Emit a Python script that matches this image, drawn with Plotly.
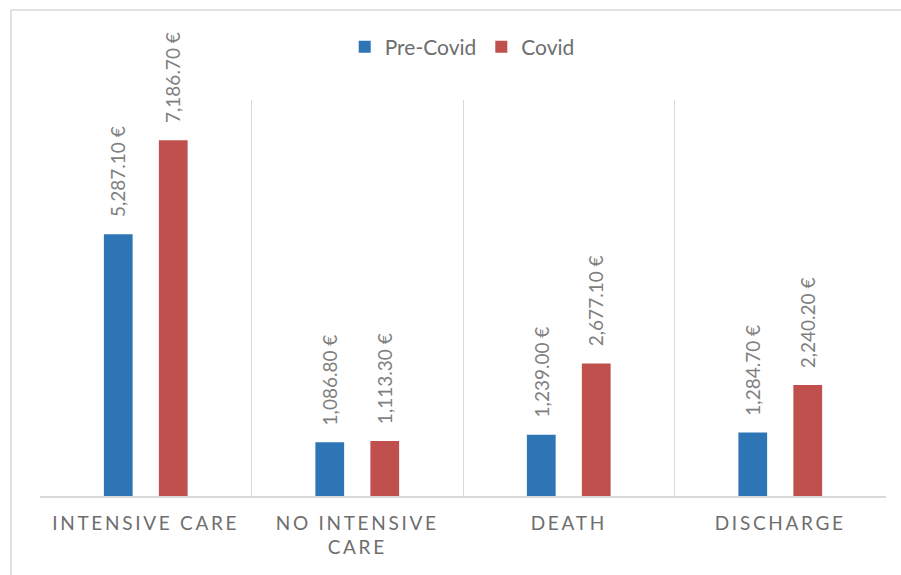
import plotly.graph_objects as go

categories = ["INTENSIVE CARE", "NO INTENSIVE<br>CARE", "DEATH", "DISCHARGE"]
pre_covid = [5287.1, 1086.8, 1239.0, 1284.7]
covid = [7186.7, 1113.3, 2677.1, 2240.2]
series_names = ["Pre-Covid", "Covid"]
series_colors = ["#2E75B6", "#C0504D"]

FONT = "Lato, 'Open Sans', sans-serif"

def fmt(v):
    return "{:,.2f} €".format(v)

fig = go.Figure()
for name, vals, col in zip(series_names, [pre_covid, covid], series_colors):
    fig.add_trace(go.Bar(
        name=name, x=categories, y=vals,
        marker=dict(color=col, line=dict(width=0)),
        hoverinfo="skip",
    ))

annotations = []
for vals, shift in [(pre_covid, -27.5), (covid, 27.5)]:
    for c, v in zip(categories, vals):
        annotations.append(dict(
            x=c, y=v, xref="x", yref="y", text=fmt(v), showarrow=False,
            textangle=-90, xanchor="center", yanchor="bottom",
            xshift=shift, yshift=15,
            font=dict(family=FONT, size=19, color="#7f7f7f"),
        ))

fig.update_layout(
    width=901, height=575,
    margin=dict(l=40, r=15, t=100, b=79),
    paper_bgcolor="white", plot_bgcolor="white",
    barmode="group", bargap=0.48, bargroupgap=0.477,
    font=dict(family=FONT, color="#6e6e6e"),
    showlegend=True,
    legend=dict(
        orientation="h", xref="container", yref="container",
        x=0.513, y=1 - 47 / 575, xanchor="center", yanchor="middle",
        font=dict(family=FONT, size=21, color="#6e6e6e"),
        itemwidth=30, traceorder="normal",
    ),
    xaxis=dict(
        type="category", tickson="boundaries", showgrid=True,
        gridcolor="#D9D9D9", gridwidth=1.3,
        showline=True, linecolor="#D9D9D9", linewidth=1.5,
        ticks="", tickfont=dict(family=FONT, size=19, color="#6e6e6e"),
        ticklabelstandoff=9, fixedrange=True,
    ),
    yaxis=dict(
        range=[0, 8000], showgrid=False, zeroline=False,
        showticklabels=False, showline=False, ticks="", fixedrange=True,
    ),
    annotations=annotations,
    shapes=[dict(
        type="rect", xref="paper", yref="paper",
        x0=(11 - 40) / 846, x1=1.2, y0=-0.5, y1=(496 - 10) / 396,
        line=dict(color="#D9D9D9", width=1.5), fillcolor="rgba(0,0,0,0)",
        layer="below",
    )],
)

post = """
var s = document.createElement('style');
s.innerHTML = '.xtick text { letter-spacing: 2.7px; }';
document.head.appendChild(s);
"""

fig.write_html("out.html", post_script=post, config={"displayModeBar": False})
